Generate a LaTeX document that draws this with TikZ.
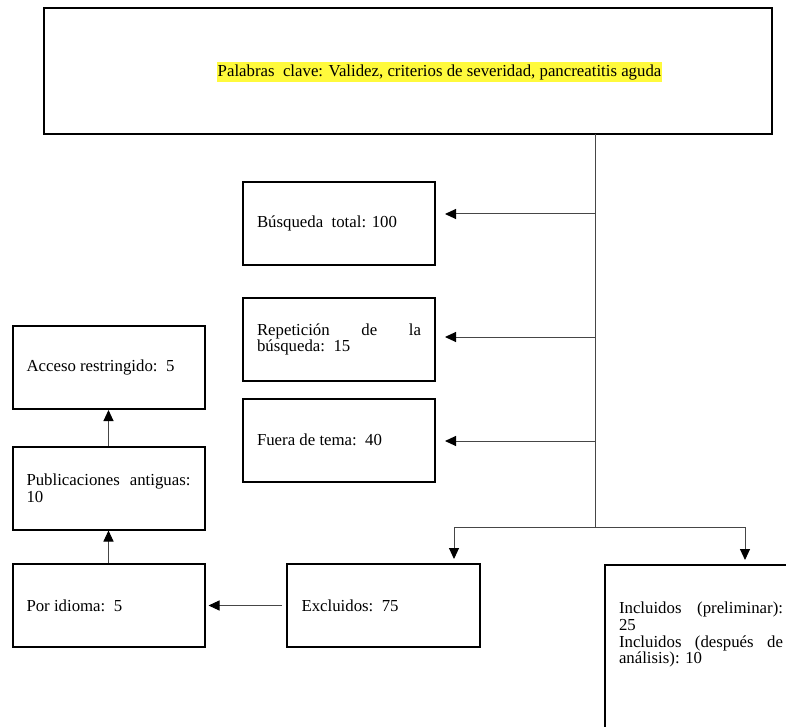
\documentclass[tikz,border=0pt]{standalone}
\usepackage{fontspec}
\setmainfont{Liberation Serif}
\usetikzlibrary{arrows.meta}
\definecolor{hl}{RGB}{255,250,60}
\definecolor{lnc}{RGB}{70,70,70}
\newcommand\boxfont{\fontsize{16.8}{16.7}\selectfont}
\hyphenpenalty=10000
\exhyphenpenalty=10000
\tolerance=10000
\begin{document}
\begin{tikzpicture}[x=1pt,y=-1pt,
  box/.style={draw=black, line width=2pt, rectangle, minimum width=192pt, minimum height=83pt,
    text width=164pt, inner xsep=14pt, inner ysep=0pt, align=justify, font=\boxfont},
  conn/.style={draw=lnc, line width=1pt},
  arr/.style={conn, -{Triangle[length=11pt,width=10pt,color=black]}}]
\useasboundingbox (0,0) rectangle (786,727);

% top box and title
\node[draw=black, line width=2pt, minimum width=728pt, minimum height=126pt, inner sep=0pt] (top) at (408,71) {};
\node[fill=hl, inner xsep=1pt, inner ysep=2pt, font=\boxfont] (title) at (439.5,72)
  {Palabras\ \ clave: Validez, criterios de severidad, pancreatitis aguda};

% right column boxes
\node[box] (busq) at (339,223.5) {Búsqueda\ \ total: 100};
\node[box] (rep) at (339,339.5) {Repetición de la búsqueda:\ \ 15};
\node[box] (fuera) at (339,440) {Fuera de tema:\ \ 40};

% left column boxes
\node[box, minimum width=191pt] (acceso) at (108.5,367.5) {Acceso restringido:\ \ 5};
\node[box, minimum width=191pt] (pub) at (108.5,488) {Publicaciones antiguas: 10};
\node[box, minimum width=191pt] (idioma) at (108.5,605.5) {Por idioma:\ \ 5};

% bottom boxes
\node[box, minimum width=193pt] (excl) at (383.5,605.5) {Excluidos:\ \ 75};
\node[draw=black, line width=2pt, rectangle, anchor=north west, inner xsep=14pt, inner ysep=37pt,
  font=\boxfont] (inc) at (604,564)
  {\parbox[t][200pt][t]{164pt}{\boxfont Incluidos (preliminar): 25\par Incluidos (después de análisis): 10}};

% trunk
\coordinate (t0) at (595,134);
\coordinate (t4) at (595,527);
\coordinate (s1) at (595,214);
\coordinate (s2) at (595,337);
\coordinate (s3) at (595,441);
\coordinate (b1) at (454,527);
\coordinate (b2) at (745,527);
\draw[conn] (t0) -- (t4);
\draw[conn] (b1) -- (b2);
\draw[arr] (s1) -- ([xshift=9pt]busq.east |- s1);
\draw[arr] (s2) -- ([xshift=9pt]rep.east |- s2);
\draw[arr] (s3) -- ([xshift=9pt]fuera.east |- s3);
\draw[arr] (b1) -- ([yshift=4pt]b1 |- excl.north);
\draw[arr] (b2) -- ([yshift=4pt]b2 |- inc.north);

% left chain
\draw[arr] ([xshift=-4pt]excl.west) -- ([xshift=3pt]idioma.east);
\draw[arr] (idioma.north) -- (pub.south);
\draw[arr] (pub.north) -- (acceso.south);
\end{tikzpicture}
\end{document}
